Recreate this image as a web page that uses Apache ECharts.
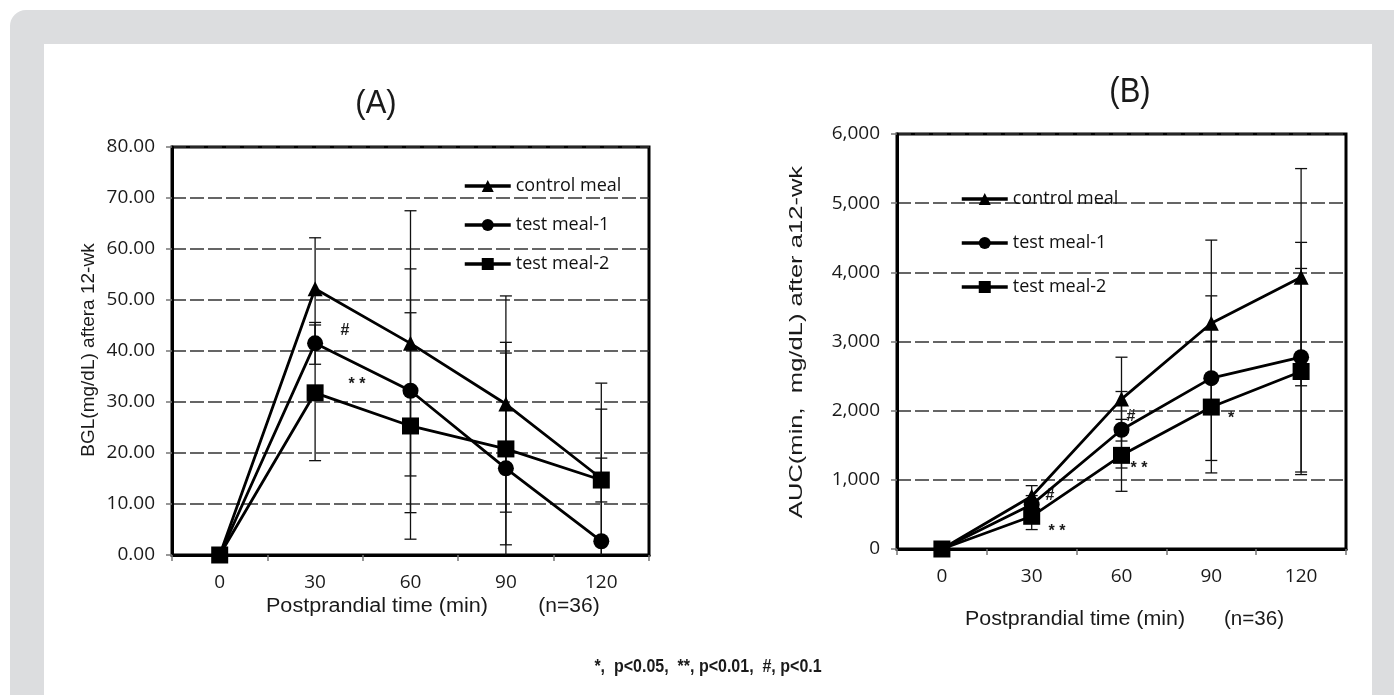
<!DOCTYPE html>
<html>
<head>
<meta charset="utf-8">
<script src="https://cdn.jsdelivr.net/npm/echarts@6/dist/echarts.min.js"></script>
<style>
  body{margin:0;background:#fff;}
  #frame{position:absolute;left:10px;top:10px;width:1420px;height:720px;background:#dcdddf;border-radius:16px;}
  #sheet{position:absolute;left:44px;top:44px;width:1328px;height:700px;background:#fff;}
  #main{position:absolute;left:0;top:0;width:1394px;height:695px;}
</style>
</head>
<body>
<div id="frame"></div>
<div id="sheet"></div>
<div id="main"></div>
<script>
// categories (postprandial time, min)
var times = ['0', '30', '60', '90', '120'];
var names = ['control meal', 'test meal-1', 'test meal-2'];

// panel A: BGL (mg/dL), means and SD
var bglControl = [0, 52.2, 41.5, 29.6, 15.0];
var bglTest1 = [0, 41.5, 32.2, 17.0, 2.7];
var bglTest2 = [0, 31.8, 25.3, 20.8, 14.7];
var bglControlSd = [0, 10.0, 26.0, 21.2, 18.7];
var bglTest1Sd = [0, 4.1, 23.9, 24.7, 25.9];
var bglTest2Sd = [0, 13.3, 22.2, 18.8, 4.3];

// panel B: AUC (min, mg/dL), means and SD
var aucControl = [0, 762, 2167, 3264, 3930];
var aucTest1 = [0, 642, 1724, 2470, 2773];
var aucTest2 = [0, 473, 1354, 2052, 2566];
var aucControlSd = [0, 154, 606, 1202, 1570];
var aucTest1Sd = [0, 130, 553, 1190, 1660];
var aucTest2Sd = [0, 192, 520, 952, 1490];

var symbols = ['triangle', 'circle', 'rect'];
var symSizes = [15, 16, 17];

var chart = echarts.init(document.getElementById('main'));

function errData(mean, sd) {
    var out = [];
    for (var i = 0; i < mean.length; i++) {
        if (sd[i] > 0) out.push([i, mean[i] - sd[i], mean[i] + sd[i]]);
    }
    return out;
}

function errRender(params, api) {
    var lo = api.coord([api.value(0), api.value(1)]);
    var hi = api.coord([api.value(0), api.value(2)]);
    var w = 6;
    var st = {stroke: '#111', lineWidth: 1.3};
    return {
        type: 'group',
        children: [
            {type: 'line', shape: {x1: lo[0], y1: lo[1], x2: hi[0], y2: hi[1]}, style: st},
            {type: 'line', shape: {x1: lo[0] - w, y1: lo[1], x2: lo[0] + w, y2: lo[1]}, style: st},
            {type: 'line', shape: {x1: hi[0] - w, y1: hi[1], x2: hi[0] + w, y2: hi[1]}, style: st}
        ]
    };
}

function lineSeries(name, data, idx, k) {
    return {
        name: name, type: 'line', data: data,
        xAxisIndex: idx, yAxisIndex: idx,
        symbol: symbols[k], symbolSize: symSizes[k],
        lineStyle: {color: '#000', width: 2.8},
        itemStyle: {color: '#000'},
        z: 5, animation: false
    };
}

function errSeries(mean, sd, idx) {
    return {
        type: 'custom', xAxisIndex: idx, yAxisIndex: idx,
        renderItem: errRender, data: errData(mean, sd),
        clip: true, z: 3, silent: true, animation: false
    };
}

var tickFont = {fontFamily: 'Open Sans', fontSize: 19, color: '#1a1a1a'};
var gridLine = {show: true, lineStyle: {color: '#333', width: 1.5, type: [14, 4]}};

function xAx(idx) {
    return {
        type: 'category', gridIndex: idx, data: times, boundaryGap: true,
        axisLine: {lineStyle: {color: '#000', width: 3}},
        axisTick: {show: true, length: 6, lineStyle: {color: '#777', width: 1.5}},
        axisLabel: Object.assign({margin: 18}, tickFont),
        splitLine: {show: false}
    };
}

function yAx(idx, max, step, fmt) {
    return {
        type: 'value', gridIndex: idx, min: 0, max: max, interval: step,
        axisLine: {show: true, lineStyle: {color: '#000', width: 3}},
        axisTick: {show: true, length: 6, lineStyle: {color: '#777', width: 1.5}},
        axisLabel: Object.assign({margin: 17, formatter: fmt}, tickFont),
        splitLine: gridLine
    };
}

var legendBase = {
    orient: 'vertical', itemWidth: 46, itemHeight: 15, selectedMode: false,
    data: names,
    lineStyle: {width: 3.5},
    textStyle: {fontFamily: 'Open Sans', fontSize: 18, color: '#111'}
};

function txt(x, y, s, font, extra) {
    return Object.assign({
        type: 'text', x: x, y: y,
        style: {text: s, font: font, fill: '#1a1a1a', align: 'center', verticalAlign: 'middle'}
    }, extra || {});
}

var option = {
    animation: false,
    legend: [
        Object.assign({left: 458, top: 172, itemGap: 21}, legendBase),
        Object.assign({left: 955, top: 185, itemGap: 26}, legendBase)
    ],
    grid: [
        {left: 172, top: 147, width: 477, height: 408, show: true, borderColor: '#000', borderWidth: 3},
        {left: 897, top: 134, width: 449, height: 415, show: true, borderColor: '#000', borderWidth: 3}
    ],
    xAxis: [xAx(0), xAx(1)],
    yAxis: [
        yAx(0, 80, 10, function (v) { return v.toFixed(2); }),
        yAx(1, 6000, 1000, function (v) { return v.toLocaleString('en-US'); })
    ],
    series: [
        errSeries(bglControl, bglControlSd, 0),
        errSeries(bglTest1, bglTest1Sd, 0),
        errSeries(bglTest2, bglTest2Sd, 0),
        errSeries(aucControl, aucControlSd, 1),
        errSeries(aucTest1, aucTest1Sd, 1),
        errSeries(aucTest2, aucTest2Sd, 1),
        lineSeries(names[0], bglControl, 0, 0),
        lineSeries(names[1], bglTest1, 0, 1),
        lineSeries(names[2], bglTest2, 0, 2),
        lineSeries(names[0], aucControl, 1, 0),
        lineSeries(names[1], aucTest1, 1, 1),
        lineSeries(names[2], aucTest2, 1, 2)
    ],
    graphic: [
        txt(376, 104, '(A)', '31px "Liberation Sans"', {scaleY: 1.1}),
        txt(1130, 92, '(B)', '31px "Liberation Sans"', {scaleY: 1.15}),
        // y axis names (rotated)
        txt(89, 350, 'BGL(mg/dL) aftera 12-wk', '19px "Liberation Sans"', {rotation: Math.PI / 2}),
        txt(797, 342, 'AUC(min,  mg/dL) after a12-wk', '18px "Liberation Sans"', {rotation: Math.PI / 2, scaleX: 1.42}),
        // x axis names
        txt(377, 606, 'Postprandial time (min)', '20px "Liberation Sans"', {scaleX: 1.08}),
        txt(569, 606, '(n=36)', '20px "Liberation Sans"', {scaleX: 1.05}),
        txt(1075, 619, 'Postprandial time (min)', '20px "Liberation Sans"', {scaleX: 1.07}),
        txt(1254, 619, '(n=36)', '20px "Liberation Sans"', {scaleX: 1.03}),
        // significance marks
        txt(345, 331, '#', 'bold 16px "Liberation Sans"'),
        txt(357, 385, '* *', 'bold 16px "Liberation Sans"'),
        txt(1050, 496, '#', 'bold 16px "Liberation Sans"'),
        txt(1057, 532, '* *', 'bold 16px "Liberation Sans"'),
        txt(1131, 417, '#', 'bold 16px "Liberation Sans"'),
        txt(1139, 469, '* *', 'bold 16px "Liberation Sans"'),
        txt(1231, 419, '*', 'bold 16px "Liberation Sans"'),
        txt(708, 667, '*,  p<0.05,  **, p<0.01,  #, p<0.1', 'bold 16px "Liberation Sans"', {scaleY: 1.1})
    ]
};

chart.setOption(option);
</script>
</body>
</html>
